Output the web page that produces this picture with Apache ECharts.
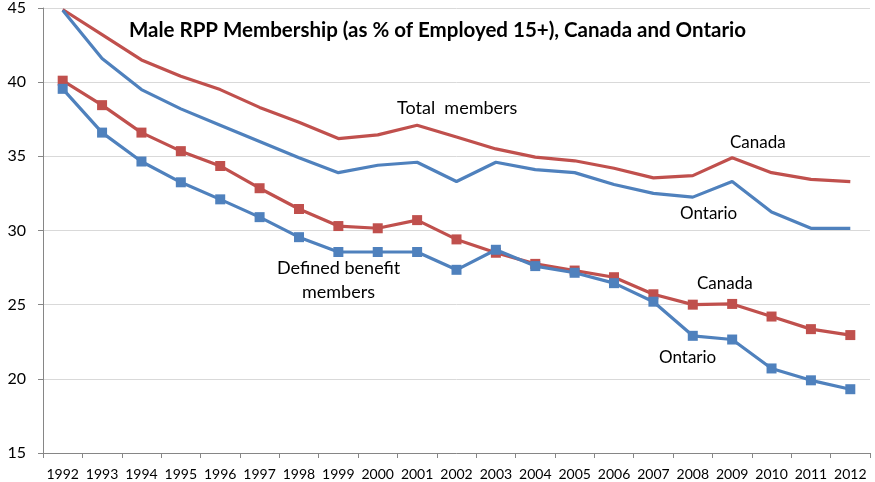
<!DOCTYPE html>
<html>
<head>
<meta charset="utf-8">
<script src="https://cdn.jsdelivr.net/npm/echarts@6/dist/echarts.min.js"></script>
<style>
  html, body { margin: 0; padding: 0; background: #fff; }
  #chart { width: 875px; height: 482px; }
</style>
</head>
<body>
<div id="chart"></div>
<script>
// Years on the category axis
const years = ['1992','1993','1994','1995','1996','1997','1998','1999','2000','2001','2002',
               '2003','2004','2005','2006','2007','2008','2009','2010','2011','2012'];

// Total RPP members, % of employed males 15+
const canadaTotal  = [44.9, 43.2, 41.5, 40.4, 39.5, 38.3, 37.3, 36.2, 36.45, 37.1, 36.3,
                      35.5, 34.95, 34.7, 34.2, 33.55, 33.7, 34.9, 33.9, 33.45, 33.3];
const ontarioTotal = [44.85, 41.6, 39.5, 38.2, 37.1, 36.0, 34.9, 33.9, 34.4, 34.6, 33.3,
                      34.6, 34.1, 33.9, 33.1, 32.5, 32.25, 33.3, 31.25, 30.15, 30.15];

// Defined benefit members, % of employed males 15+
const canadaDB  = [40.1, 38.45, 36.6, 35.35, 34.35, 32.85, 31.45, 30.3, 30.15, 30.7, 29.4,
                   28.5, 27.75, 27.3, 26.85, 25.7, 25.0, 25.05, 24.2, 23.35, 22.95];
const ontarioDB = [39.55, 36.6, 34.65, 33.25, 32.1, 30.9, 29.55, 28.55, 28.55, 28.55, 27.35,
                   28.7, 27.6, 27.15, 26.45, 25.2, 22.9, 22.65, 20.7, 19.9, 19.3];

const yTicks = [15, 20, 25, 30, 35, 40, 45];

const RED = '#C0504D';
const BLUE = '#4F81BD';
const FONT = 'Lato';

function lineSeries(name, data, color, markers) {
  return {
    name, type: 'line', data,
    symbol: markers ? 'rect' : 'none',
    symbolSize: 10,
    showSymbol: markers,
    lineStyle: { color, width: 3.2 },
    itemStyle: { color },
    silent: true,
    z: color === BLUE ? 3 : 2
  };
}

// Inline annotation labels next to the lines
function note(text, x, y, size) {
  return {
    type: 'text', x, y, silent: true,
    style: { text, font: size + 'px ' + FONT, fill: '#000', align: 'left', verticalAlign: 'middle' }
  };
}

const chart = echarts.init(document.getElementById('chart'));
chart.setOption({
  animation: false,
  backgroundColor: '#fff',
  textStyle: { fontFamily: FONT },
  title: {
    text: 'Male RPP Membership (as % of Employed 15+), Canada and Ontario',
    left: 'center', top: 15,
    textStyle: { fontFamily: FONT, fontWeight: 'bold', fontSize: 20.5, color: '#000' }
  },
  grid: { left: 43, right: 5, top: 8, bottom: 29, containLabel: false },
  xAxis: {
    type: 'category', data: years, boundaryGap: true,
    axisLine: { lineStyle: { color: '#868686', width: 1 } },
    axisTick: { show: true, length: 5, lineStyle: { color: '#868686' } },
    axisLabel: { color: '#000', fontSize: 14, margin: 14, interval: 0 }
  },
  yAxis: {
    type: 'value', min: yTicks[0], max: yTicks[yTicks.length - 1], interval: 5,
    axisLine: { show: true, lineStyle: { color: '#868686' } },
    axisTick: { show: true, length: 5, lineStyle: { color: '#868686' } },
    axisLabel: { color: '#000', fontSize: 16, margin: 17 },
    splitLine: { lineStyle: { color: '#d9d9d9', width: 1 } }
  },
  series: [
    lineSeries('Canada total', canadaTotal, RED, false),
    lineSeries('Ontario total', ontarioTotal, BLUE, false),
    lineSeries('Canada DB', canadaDB, RED, true),
    lineSeries('Ontario DB', ontarioDB, BLUE, true)
  ],
  graphic: [
    note('Total  members', 397, 108, 18),
    note('Canada', 730, 143, 17),
    note('Ontario', 680, 214, 17),
    note('Defined benefit', 277, 268, 18),
    note('members', 302, 292, 18),
    note('Canada', 697, 284, 17),
    note('Ontario', 659, 358, 17)
  ]
});
</script>
</body>
</html>
